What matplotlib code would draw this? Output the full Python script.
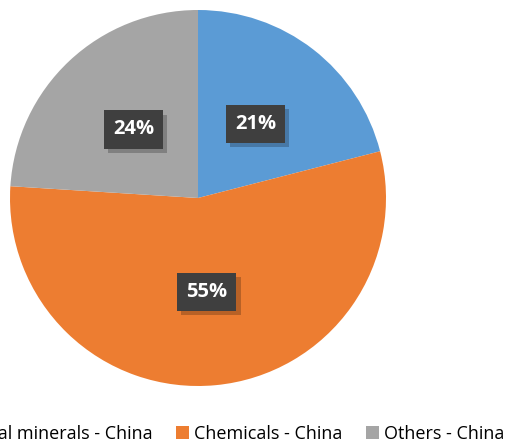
import numpy as np
import matplotlib.pyplot as plt
from matplotlib.patches import Patch
import matplotlib.patheffects as pe

plt.rcParams['font.family'] = ['Open Sans', 'DejaVu Sans']

# ── data ──
categories = ["Critical minerals - China", "Chemicals - China", "Others - China"]
shares = [21, 55, 24]
colors = ["#5B9BD5", "#ED7D31", "#A5A5A5"]

fig = plt.figure(figsize=(5.07, 4.45), dpi=100)
fig.patch.set_facecolor("white")

# pie area: centre ~ (198, 198) px, radius ~188 px
ax = fig.add_axes([10 / 507, 59 / 445, 376 / 507, 376 / 445])
wedges, _ = ax.pie(shares, colors=colors, startangle=90, counterclock=False,
                   radius=1.0, wedgeprops=dict(linewidth=0))
ax.set_xlim(-1, 1)
ax.set_ylim(-1, 1)
ax.set_aspect("auto")
ax.axis("off")

# percentage labels in dark boxes with a soft shadow
total = sum(shares)
start = 90.0
for val in shares:
    span = 360.0 * val / total
    mid = np.deg2rad(start - span / 2)
    start -= span
    x, y = 0.5 * np.cos(mid), 0.5 * np.sin(mid)
    t = ax.text(x, y, f"{val}%", ha="center", va="center", fontsize=14.5,
                fontweight="bold", color="white",
                bbox=dict(boxstyle="square,pad=0.45", facecolor="#3f3f3f",
                          edgecolor="none", linewidth=0))
    t.get_bbox_patch().set_path_effects(
        [pe.SimplePatchShadow(offset=(3, -3), shadow_rgbFace="black", alpha=0.22),
         pe.Normal()])

handles = [Patch(facecolor=c, edgecolor="none") for c in colors]
fig.legend(handles, categories, loc="center right", bbox_to_anchor=(0.995, 11 / 445),
           ncol=3, frameon=False, fontsize=13, handlelength=0.7, handleheight=0.7,
           handletextpad=0.3, columnspacing=1.3, borderaxespad=0, borderpad=0)

fig.savefig("out.png", dpi=100, facecolor="white")
